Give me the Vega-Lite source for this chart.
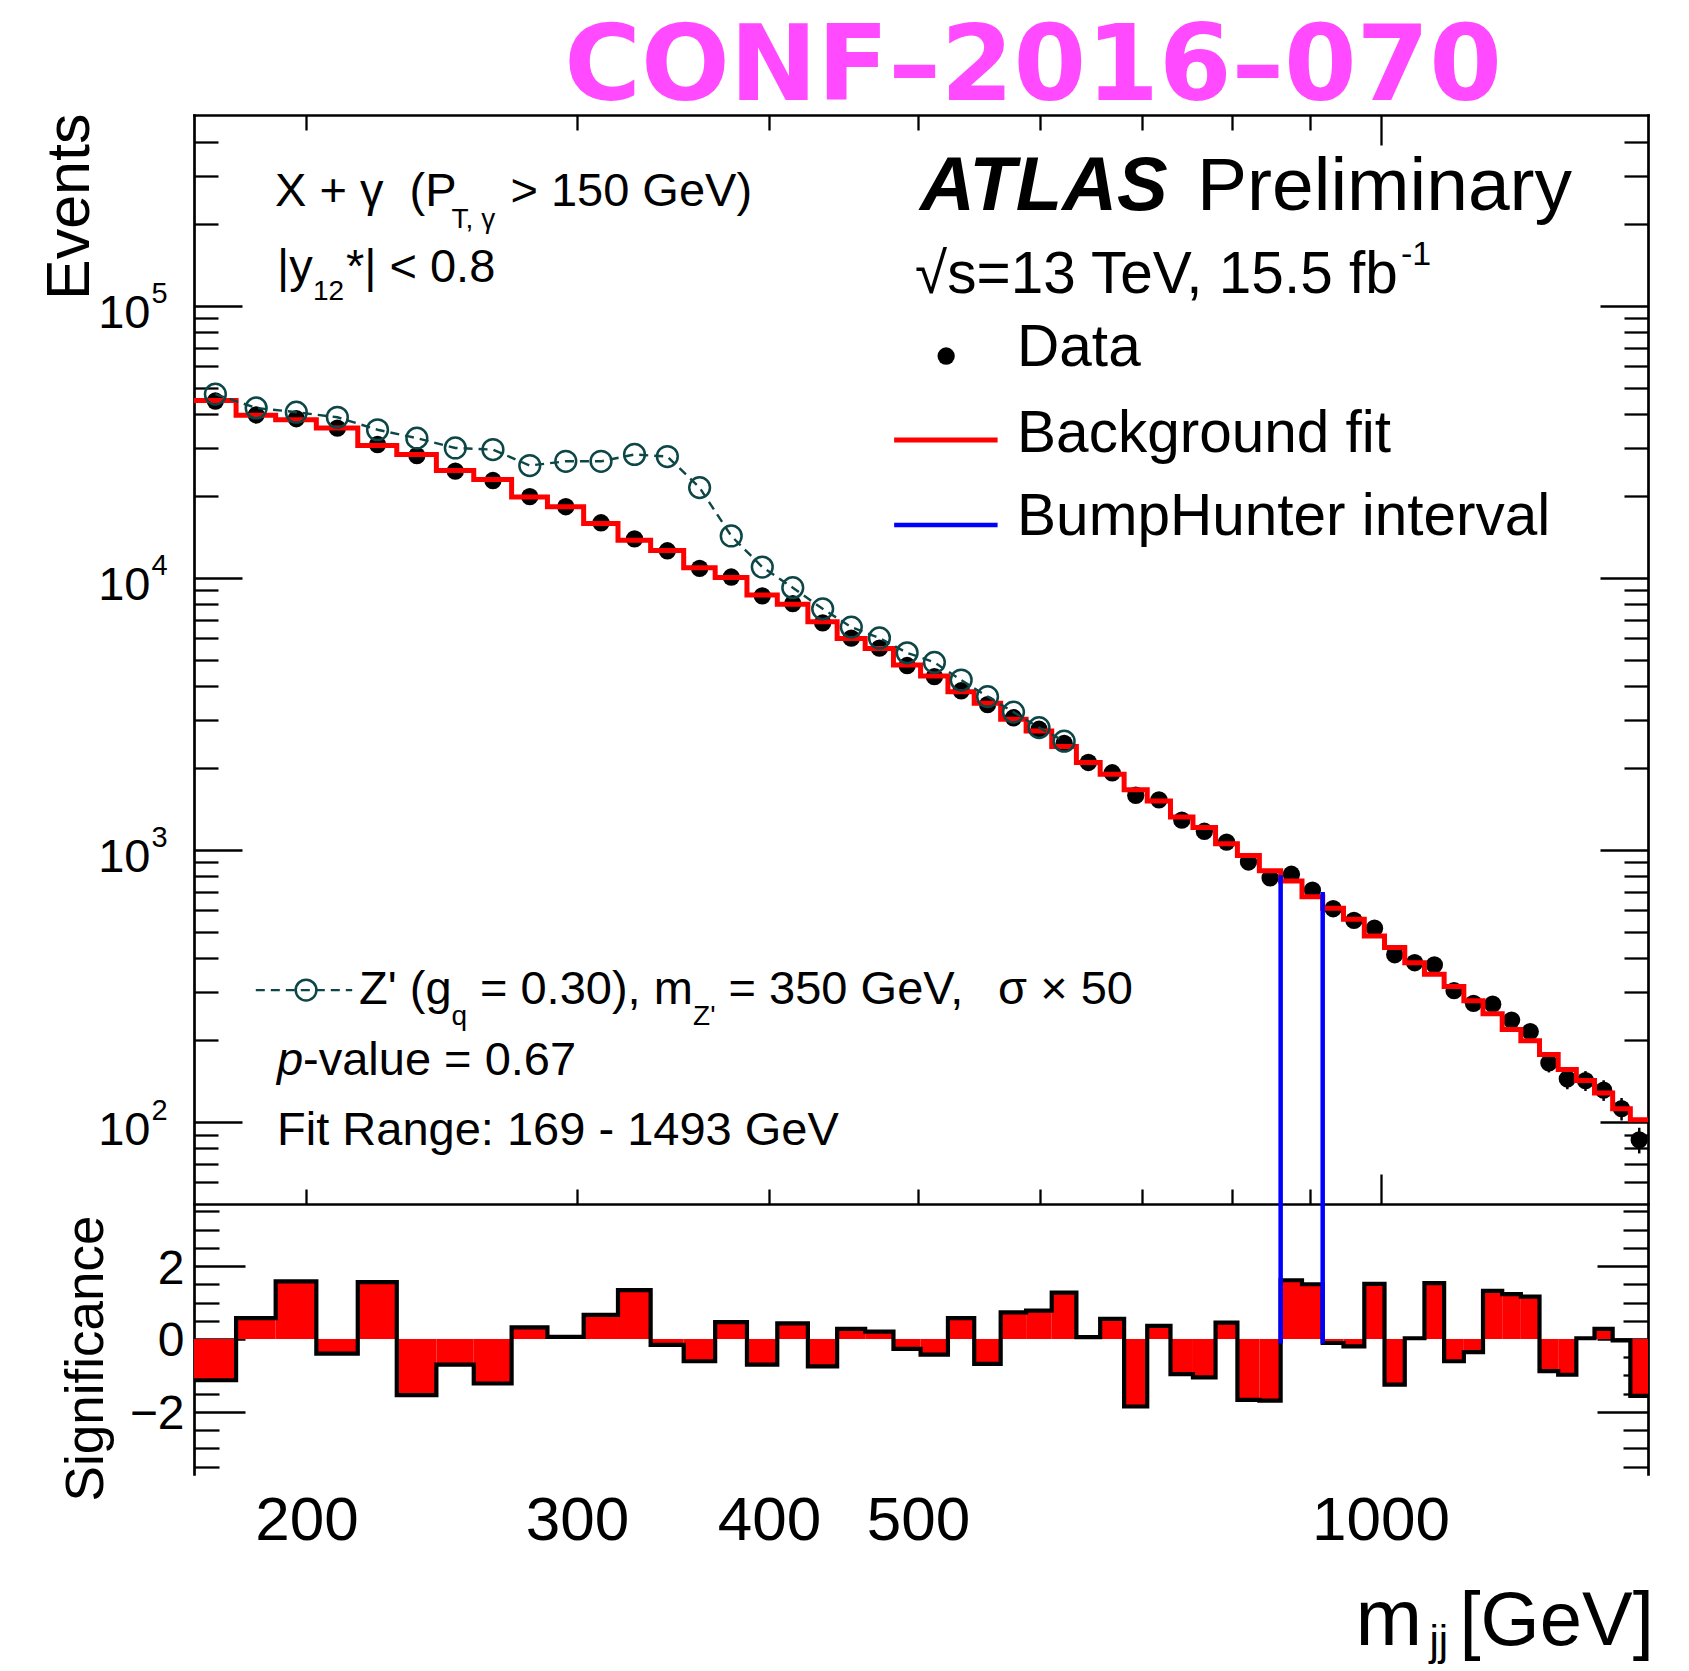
{
  "$schema": "https://vega.github.io/schema/vega-lite/v6.json",
  "width": 1454,
  "height": 1359,
  "autosize": {"type": "none"},
  "padding": {"left": 194, "top": 115, "right": 41, "bottom": 197},
  "background": "white",
  "datasets": {
    "bins": [
      {"i": 1, "lo": 169, "hi": 180, "m": 174.5, "data": 44631, "bg": 44870, "sig": -1.13, "zp": 47300},
      {"i": 2, "lo": 180, "hi": 191, "m": 185.5, "data": 39653, "bg": 39540, "sig": 0.57, "zp": 42100},
      {"i": 3, "lo": 191, "hi": 203, "m": 197, "data": 38418, "bg": 38110, "sig": 1.58, "zp": 40600},
      {"i": 4, "lo": 203, "hi": 216, "m": 209.5, "data": 35485, "bg": 35560, "sig": -0.40, "zp": 38900},
      {"i": 5, "lo": 216, "hi": 229, "m": 222.5, "data": 30893, "bg": 30620, "sig": 1.56, "zp": 35000},
      {"i": 6, "lo": 229, "hi": 243, "m": 236, "data": 28121, "bg": 28380, "sig": -1.54, "zp": 32600},
      {"i": 7, "lo": 243, "hi": 257, "m": 250, "data": 24660, "bg": 24770, "sig": -0.70, "zp": 30000},
      {"i": 8, "lo": 257, "hi": 272, "m": 264.5, "data": 22775, "bg": 22960, "sig": -1.22, "zp": 29600},
      {"i": 9, "lo": 272, "hi": 287, "m": 279.5, "data": 19865, "bg": 19820, "sig": 0.32, "zp": 25850},
      {"i": 10, "lo": 287, "hi": 303, "m": 295, "data": 18248, "bg": 18240, "sig": 0.06, "zp": 26800},
      {"i": 11, "lo": 303, "hi": 319, "m": 311, "data": 15933, "bg": 15850, "sig": 0.66, "zp": 26800},
      {"i": 12, "lo": 319, "hi": 335, "m": 327, "data": 13897, "bg": 13740, "sig": 1.34, "zp": 28400},
      {"i": 13, "lo": 335, "hi": 352, "m": 343.5, "data": 12572, "bg": 12590, "sig": -0.16, "zp": 27900},
      {"i": 14, "lo": 352, "hi": 369, "m": 360.5, "data": 10826, "bg": 10890, "sig": -0.61, "zp": 21450},
      {"i": 15, "lo": 369, "hi": 387, "m": 378, "data": 10066, "bg": 10020, "sig": 0.46, "zp": 14250},
      {"i": 16, "lo": 387, "hi": 405, "m": 396, "data": 8585, "bg": 8650, "sig": -0.70, "zp": 10950},
      {"i": 17, "lo": 405, "hi": 424, "m": 414.5, "data": 8038, "bg": 8000, "sig": 0.43, "zp": 9200},
      {"i": 18, "lo": 424, "hi": 443, "m": 433.5, "data": 6828, "bg": 6890, "sig": -0.75, "zp": 7690},
      {"i": 19, "lo": 443, "hi": 462, "m": 452.5, "data": 6002, "bg": 5980, "sig": 0.28, "zp": 6590},
      {"i": 20, "lo": 462, "hi": 482, "m": 472, "data": 5515, "bg": 5500, "sig": 0.20, "zp": 6010},
      {"i": 21, "lo": 482, "hi": 502, "m": 492, "data": 4761, "bg": 4780, "sig": -0.27, "zp": 5300},
      {"i": 22, "lo": 502, "hi": 523, "m": 512.5, "data": 4332, "bg": 4360, "sig": -0.43, "zp": 4890},
      {"i": 23, "lo": 523, "hi": 544, "m": 533.5, "data": 3845, "bg": 3810, "sig": 0.57, "zp": 4210},
      {"i": 24, "lo": 544, "hi": 566, "m": 555, "data": 3420, "bg": 3460, "sig": -0.68, "zp": 3660},
      {"i": 25, "lo": 566, "hi": 588, "m": 577, "data": 3060, "bg": 3020, "sig": 0.73, "zp": 3210},
      {"i": 26, "lo": 588, "hi": 611, "m": 599.5, "data": 2776, "bg": 2735, "sig": 0.78, "zp": 2815},
      {"i": 27, "lo": 611, "hi": 634, "m": 622.5, "data": 2462, "bg": 2400, "sig": 1.27, "zp": 2510},
      {"i": 28, "lo": 634, "hi": 657, "m": 645.5, "data": 2096, "bg": 2094, "sig": 0.05},
      {"i": 29, "lo": 657, "hi": 681, "m": 669, "data": 1921, "bg": 1897, "sig": 0.55},
      {"i": 30, "lo": 681, "hi": 705, "m": 693, "data": 1588, "bg": 1663, "sig": -1.85},
      {"i": 31, "lo": 705, "hi": 730, "m": 717.5, "data": 1528, "bg": 1514, "sig": 0.36},
      {"i": 32, "lo": 730, "hi": 755, "m": 742.5, "data": 1286, "bg": 1321, "sig": -0.96},
      {"i": 33, "lo": 755, "hi": 781, "m": 768, "data": 1171, "bg": 1208, "sig": -1.05},
      {"i": 34, "lo": 781, "hi": 807, "m": 794, "data": 1069, "bg": 1054, "sig": 0.45},
      {"i": 35, "lo": 807, "hi": 834, "m": 820.5, "data": 903, "bg": 955, "sig": -1.67},
      {"i": 36, "lo": 834, "hi": 861, "m": 847.5, "data": 789, "bg": 838, "sig": -1.69},
      {"i": 37, "lo": 861, "hi": 889, "m": 875, "data": 814, "bg": 769, "sig": 1.61},
      {"i": 38, "lo": 889, "hi": 917, "m": 903, "data": 712, "bg": 673, "sig": 1.50},
      {"i": 39, "lo": 917, "hi": 946, "m": 931.5, "data": 608, "bg": 611, "sig": -0.11},
      {"i": 40, "lo": 946, "hi": 976, "m": 961, "data": 551, "bg": 556, "sig": -0.20},
      {"i": 41, "lo": 976, "hi": 1006, "m": 991, "data": 516, "bg": 483, "sig": 1.51},
      {"i": 42, "lo": 1006, "hi": 1037, "m": 1021.5, "data": 412, "bg": 438, "sig": -1.25},
      {"i": 43, "lo": 1037, "hi": 1068, "m": 1052.5, "data": 385, "bg": 385, "sig": 0.02},
      {"i": 44, "lo": 1068, "hi": 1100, "m": 1084, "data": 378, "bg": 349, "sig": 1.53},
      {"i": 45, "lo": 1100, "hi": 1133, "m": 1116.5, "data": 304, "bg": 315, "sig": -0.61},
      {"i": 46, "lo": 1133, "hi": 1166, "m": 1149.5, "data": 273, "bg": 279, "sig": -0.36},
      {"i": 47, "lo": 1166, "hi": 1200, "m": 1183, "data": 271, "bg": 250, "sig": 1.32},
      {"i": 48, "lo": 1200, "hi": 1234, "m": 1217, "data": 237, "bg": 219, "sig": 1.23, "elo": 221.6, "ehi": 252.4},
      {"i": 49, "lo": 1234, "hi": 1269, "m": 1251.5, "data": 215, "bg": 199, "sig": 1.16, "elo": 200.3, "ehi": 229.7},
      {"i": 50, "lo": 1269, "hi": 1305, "m": 1287, "data": 165, "bg": 177, "sig": -0.88, "elo": 152.2, "ehi": 177.8},
      {"i": 51, "lo": 1305, "hi": 1341, "m": 1323, "data": 144, "bg": 156, "sig": -0.98, "elo": 132, "ehi": 156},
      {"i": 52, "lo": 1341, "hi": 1378, "m": 1359.5, "data": 142, "bg": 142, "sig": 0.02, "elo": 130.1, "ehi": 153.9},
      {"i": 53, "lo": 1378, "hi": 1416, "m": 1397, "data": 131, "bg": 128, "sig": 0.28, "elo": 119.6, "ehi": 142.4},
      {"i": 54, "lo": 1416, "hi": 1454, "m": 1435, "data": 112, "bg": 112, "sig": -0.04, "elo": 101.4, "ehi": 122.6},
      {"i": 55, "lo": 1454, "hi": 1493, "m": 1473.5, "data": 86, "bg": 102, "sig": -1.56, "elo": 76.7, "ehi": 95.3}
    ],
    "blueUpper": [
      {"m": 861, "m2": 861, "n": 50, "n2": 807},
      {"m": 917, "m2": 917, "n": 50, "n2": 701},
      {"m": 482.5, "m2": 563.4, "n": 15630, "n2": 15630}
    ],
    "blueLower": [
      {"m": 861, "s1": -0.12, "s2": 3.7},
      {"m": 917, "s1": -0.12, "s2": 3.7}
    ],
    "redKey": [{"m": 482.5, "m2": 563.4, "n": 32090}],
    "dataKey": [{"m": 521.6, "n": 65310}],
    "zpKeyLine": [{"m": 185.4, "m2": 214.2, "n": 305.5}],
    "zpKeyDot": [{"m": 199.9, "n": 305.5}],
    "headline": [{"m": 294.3, "n": 570000, "t": "CONF–2016–070"}],
    "text47": [
      {"m": 190.8, "n": 232500, "t": "X + γ\u00a0\u00a0(P"},
      {"m": 271.5, "n": 232500, "t": "> 150 GeV)"},
      {"m": 191.4, "n": 122200, "t": "|y"},
      {"m": 212.2, "n": 122200, "t": "*| < 0.8"},
      {"m": 216.4, "n": 271.4, "t": "Z' (g"},
      {"m": 259.4, "n": 271.4, "t": "= 0.30), m"},
      {"m": 376.5, "n": 271.4, "t": "= 350 GeV,"},
      {"m": 563.8, "n": 271.4, "t": "σ × 50"},
      {"m": 199.0, "n": 148.8, "t": "-value = 0.67"},
      {"m": 191.4, "n": 82.29, "t": "Fit Range: 169 - 1493 GeV"}
    ],
    "text47i": [{"m": 191.4, "n": 148.8, "t": "p"}],
    "textSub": [
      {"m": 248.6, "n": 192970, "t": "T, γ"},
      {"m": 202.0, "n": 104900, "t": "12"},
      {"m": 248.6, "n": 227.2, "t": "q"},
      {"m": 357.0, "n": 227.2, "t": "Z'"}
    ],
    "textAtlas": [{"m": 501.6, "n": 224700, "t": "ATLAS"}],
    "textPrelim": [{"m": 759.6, "n": 224700, "t": "Preliminary"}],
    "text58": [
      {"m": 497.9, "n": 111300, "t": "√s=13 TeV, 15.5 fb"},
      {"m": 580.1, "n": 60020, "t": "Data"},
      {"m": 580.1, "n": 28990, "t": "Background fit"},
      {"m": 580.1, "n": 14360, "t": "BumpHunter interval"}
    ],
    "textSup": [{"m": 1031.2, "n": 141100, "t": "-1"}]
  },
  "layer": [
    {
      "layer": [
        {
          "data": {"name": "bins"},
          "transform": [{"filter": "isValid(datum.elo)"}],
          "mark": {"type": "rule", "color": "black", "strokeWidth": 2.5},
          "encoding": {
            "x": {"field": "m", "type": "quantitative", "scale": {"type": "log", "domain": [169, 1493], "nice": false},
              "axis": {"orient": "bottom", "ticks": false, "labels": false, "domain": false, "title": "jj", "titleFontSize": 42, "titleAngle": 0, "titleAlign": "left", "titleBaseline": "alphabetic", "titleX": 1235, "titleY": 180}},
            "y": {"field": "elo", "type": "quantitative", "scale": {"type": "log", "domain": [5.09, 502000], "nice": false},
              "axis": {"orient": "left", "values": [100, 1000, 10000, 100000], "ticks": false, "domain": false, "labelExpr": "datum.value == 100 ? '2' : datum.value == 1000 ? '3' : datum.value == 10000 ? '4' : '5'", "labelFontSize": 29, "labelAlign": "left", "labelBaseline": "middle", "labelPadding": 43, "labelOffset": -12, "title": null}},
            "y2": {"field": "ehi"}
          }
        },
        {
          "data": {"name": "bins"},
          "mark": {"type": "point", "filled": true, "color": "black", "size": 300, "opacity": 1},
          "encoding": {
            "x": {"field": "m", "type": "quantitative", "scale": {"type": "log", "domain": [169, 1493], "nice": false},
              "axis": {"orient": "bottom", "ticks": false, "labels": false, "domain": false, "title": "[GeV]", "titleFontSize": 76, "titleAngle": 0, "titleAlign": "left", "titleBaseline": "alphabetic", "titleX": 1265, "titleY": 170}},
            "y": {"field": "data", "type": "quantitative", "scale": {"type": "log", "domain": [5.09, 502000], "nice": false}, "axis": null}
          }
        },
        {
          "data": {"name": "bins"},
          "transform": [{"fold": ["lo", "hi"], "as": ["edge", "e"]}],
          "mark": {"type": "line", "color": "#ff0000", "strokeWidth": 5, "strokeJoin": "miter"},
          "encoding": {
            "x": {"field": "e", "type": "quantitative", "scale": {"type": "log", "domain": [169, 1493], "nice": false},
              "axis": {"orient": "top", "values": [200, 300, 400, 500, 600, 700, 800, 900, 1000], "labels": false, "domain": true, "tickSize": {"condition": {"test": "datum.value == 1000", "value": -30}, "value": -15}, "title": null}},
            "y": {"field": "bg", "type": "quantitative", "scale": {"type": "log", "domain": [5.09, 502000], "nice": false},
              "axis": {"orient": "left", "values": [60, 70, 80, 90, 100, 200, 300, 400, 500, 600, 700, 800, 900, 1000, 2000, 3000, 4000, 5000, 6000, 7000, 8000, 9000, 10000, 20000, 30000, 40000, 50000, 60000, 70000, 80000, 90000, 100000, 200000, 300000, 400000], "labels": false, "domain": true, "tickSize": {"condition": {"test": "indexof([100,1000,10000,100000], datum.value) >= 0", "value": -48}, "value": -24}, "title": null}},
            "order": [{"field": "e", "type": "quantitative"}, {"field": "i", "type": "quantitative"}]
          }
        },
        {
          "data": {"name": "bins"},
          "transform": [{"filter": "isValid(datum.zp)"}],
          "mark": {"type": "line", "color": "#0d4646", "strokeWidth": 2.4, "strokeDash": [9, 6]},
          "encoding": {
            "x": {"field": "m", "type": "quantitative", "scale": {"type": "log", "domain": [169, 1493], "nice": false},
              "axis": {"orient": "bottom", "offset": -270, "values": [200, 300, 400, 500, 600, 700, 800, 900, 1000], "labels": false, "domain": true, "tickSize": {"condition": {"test": "datum.value == 1000", "value": -30}, "value": -15}, "title": null}},
            "y": {"field": "zp", "type": "quantitative", "scale": {"type": "log", "domain": [5.09, 502000], "nice": false},
              "axis": {"orient": "right", "values": [60, 70, 80, 90, 100, 200, 300, 400, 500, 600, 700, 800, 900, 1000, 2000, 3000, 4000, 5000, 6000, 7000, 8000, 9000, 10000, 20000, 30000, 40000, 50000, 60000, 70000, 80000, 90000, 100000, 200000, 300000, 400000], "labels": false, "domain": true, "tickSize": {"condition": {"test": "indexof([100,1000,10000,100000], datum.value) >= 0", "value": -48}, "value": -24}, "title": null}}
          }
        },
        {
          "data": {"name": "bins"},
          "transform": [{"filter": "isValid(datum.zp)"}],
          "mark": {"type": "point", "filled": false, "color": "#0d4646", "size": 430, "strokeWidth": 2.5, "opacity": 1},
          "encoding": {
            "x": {"field": "m", "type": "quantitative", "scale": {"type": "log", "domain": [169, 1493], "nice": false},
              "axis": {"orient": "bottom", "values": [200, 300, 400, 500, 1000], "ticks": false, "domain": false, "format": "d", "labelFontSize": 62, "labelAngle": 0, "labelAlign": "center", "labelBaseline": "top", "labelPadding": 16, "title": "m", "titleFontSize": 80, "titleAngle": 0, "titleAlign": "left", "titleBaseline": "alphabetic", "titleX": 1161, "titleY": 170}},
            "y": {"field": "zp", "type": "quantitative", "scale": {"type": "log", "domain": [5.09, 502000], "nice": false},
              "axis": {"orient": "left", "values": [100, 1000, 10000, 100000], "ticks": false, "domain": false, "labelExpr": "'10'", "labelFontSize": 47, "labelAlign": "right", "labelBaseline": "middle", "labelPadding": 44, "labelOffset": 8, "title": "Events", "titleFontSize": 61, "titleAngle": -90, "titleAlign": "right", "titleBaseline": "alphabetic", "titleX": -106, "titleY": -2}}
          }
        },
        {
          "data": {"name": "blueUpper"},
          "mark": {"type": "rule", "color": "#0000ff", "strokeWidth": 4.5},
          "encoding": {
            "x": {"field": "m", "type": "quantitative", "scale": {"type": "log", "domain": [169, 1493], "nice": false}, "axis": null},
            "x2": {"field": "m2"},
            "y": {"field": "n", "type": "quantitative", "scale": {"type": "log", "domain": [5.09, 502000], "nice": false}, "axis": null},
            "y2": {"field": "n2"}
          }
        },
        {
          "data": {"name": "redKey"},
          "mark": {"type": "rule", "color": "#ff0000", "strokeWidth": 5},
          "encoding": {
            "x": {"field": "m", "type": "quantitative", "scale": {"type": "log", "domain": [169, 1493], "nice": false}, "axis": null},
            "x2": {"field": "m2"},
            "y": {"field": "n", "type": "quantitative", "scale": {"type": "log", "domain": [5.09, 502000], "nice": false}, "axis": null}
          }
        },
        {
          "data": {"name": "dataKey"},
          "mark": {"type": "point", "filled": true, "color": "black", "size": 300, "opacity": 1},
          "encoding": {
            "x": {"field": "m", "type": "quantitative", "scale": {"type": "log", "domain": [169, 1493], "nice": false}, "axis": null},
            "y": {"field": "n", "type": "quantitative", "scale": {"type": "log", "domain": [5.09, 502000], "nice": false}, "axis": null}
          }
        },
        {
          "data": {"name": "zpKeyLine"},
          "mark": {"type": "rule", "color": "#0d4646", "strokeWidth": 2.4, "strokeDash": [9, 6]},
          "encoding": {
            "x": {"field": "m", "type": "quantitative", "scale": {"type": "log", "domain": [169, 1493], "nice": false}, "axis": null},
            "x2": {"field": "m2"},
            "y": {"field": "n", "type": "quantitative", "scale": {"type": "log", "domain": [5.09, 502000], "nice": false}, "axis": null}
          }
        },
        {
          "data": {"name": "zpKeyDot"},
          "mark": {"type": "point", "filled": false, "color": "#0d4646", "size": 430, "strokeWidth": 2.5, "opacity": 1},
          "encoding": {
            "x": {"field": "m", "type": "quantitative", "scale": {"type": "log", "domain": [169, 1493], "nice": false}, "axis": null},
            "y": {"field": "n", "type": "quantitative", "scale": {"type": "log", "domain": [5.09, 502000], "nice": false}, "axis": null}
          }
        },
        {
          "data": {"name": "headline"},
          "mark": {"type": "text", "font": "DejaVu Sans", "fontSize": 104.5, "fontWeight": "bold", "align": "left", "baseline": "alphabetic", "color": "#ff4aff"},
          "encoding": {
            "x": {"field": "m", "type": "quantitative", "scale": {"type": "log", "domain": [169, 1493], "nice": false}, "axis": null},
            "y": {"field": "n", "type": "quantitative", "scale": {"type": "log", "domain": [5.09, 502000], "nice": false}, "axis": null},
            "text": {"field": "t"}
          }
        },
        {
          "data": {"name": "text47"},
          "mark": {"type": "text", "fontSize": 47, "align": "left", "baseline": "alphabetic", "color": "black"},
          "encoding": {
            "x": {"field": "m", "type": "quantitative", "scale": {"type": "log", "domain": [169, 1493], "nice": false}, "axis": null},
            "y": {"field": "n", "type": "quantitative", "scale": {"type": "log", "domain": [5.09, 502000], "nice": false}, "axis": null},
            "text": {"field": "t"}
          }
        },
        {
          "data": {"name": "text47i"},
          "mark": {"type": "text", "fontSize": 47, "fontStyle": "italic", "align": "left", "baseline": "alphabetic", "color": "black"},
          "encoding": {
            "x": {"field": "m", "type": "quantitative", "scale": {"type": "log", "domain": [169, 1493], "nice": false}, "axis": null},
            "y": {"field": "n", "type": "quantitative", "scale": {"type": "log", "domain": [5.09, 502000], "nice": false}, "axis": null},
            "text": {"field": "t"}
          }
        },
        {
          "data": {"name": "textSub"},
          "mark": {"type": "text", "fontSize": 28, "align": "left", "baseline": "alphabetic", "color": "black"},
          "encoding": {
            "x": {"field": "m", "type": "quantitative", "scale": {"type": "log", "domain": [169, 1493], "nice": false}, "axis": null},
            "y": {"field": "n", "type": "quantitative", "scale": {"type": "log", "domain": [5.09, 502000], "nice": false}, "axis": null},
            "text": {"field": "t"}
          }
        },
        {
          "data": {"name": "textAtlas"},
          "mark": {"type": "text", "fontSize": 76, "fontWeight": "bold", "fontStyle": "italic", "align": "left", "baseline": "alphabetic", "color": "black"},
          "encoding": {
            "x": {"field": "m", "type": "quantitative", "scale": {"type": "log", "domain": [169, 1493], "nice": false}, "axis": null},
            "y": {"field": "n", "type": "quantitative", "scale": {"type": "log", "domain": [5.09, 502000], "nice": false}, "axis": null},
            "text": {"field": "t"}
          }
        },
        {
          "data": {"name": "textPrelim"},
          "mark": {"type": "text", "fontSize": 75, "align": "left", "baseline": "alphabetic", "color": "black"},
          "encoding": {
            "x": {"field": "m", "type": "quantitative", "scale": {"type": "log", "domain": [169, 1493], "nice": false}, "axis": null},
            "y": {"field": "n", "type": "quantitative", "scale": {"type": "log", "domain": [5.09, 502000], "nice": false}, "axis": null},
            "text": {"field": "t"}
          }
        },
        {
          "data": {"name": "text58"},
          "mark": {"type": "text", "fontSize": 58.5, "align": "left", "baseline": "alphabetic", "color": "black"},
          "encoding": {
            "x": {"field": "m", "type": "quantitative", "scale": {"type": "log", "domain": [169, 1493], "nice": false}, "axis": null},
            "y": {"field": "n", "type": "quantitative", "scale": {"type": "log", "domain": [5.09, 502000], "nice": false}, "axis": null},
            "text": {"field": "t"}
          }
        },
        {
          "data": {"name": "textSup"},
          "mark": {"type": "text", "fontSize": 34, "align": "left", "baseline": "alphabetic", "color": "black"},
          "encoding": {
            "x": {"field": "m", "type": "quantitative", "scale": {"type": "log", "domain": [169, 1493], "nice": false}, "axis": null},
            "y": {"field": "n", "type": "quantitative", "scale": {"type": "log", "domain": [5.09, 502000], "nice": false}, "axis": null},
            "text": {"field": "t"}
          }
        }
      ],
      "resolve": {"axis": {"x": "independent", "y": "independent"}}
    },
    {
      "layer": [
        {
          "data": {"name": "bins"},
          "mark": {"type": "rect", "color": "#ff0000"},
          "encoding": {
            "x": {"field": "lo", "type": "quantitative", "scale": {"type": "log", "domain": [169, 1493], "nice": false},
              "axis": {"orient": "bottom", "offset": -270, "values": [200, 300, 400, 500, 600, 700, 800, 900, 1000], "labels": false, "domain": false, "tickSize": {"condition": {"test": "datum.value == 1000", "value": 12.5}, "value": 6.5}, "title": null}},
            "x2": {"field": "hi"},
            "y": {"field": "sig", "type": "quantitative", "scale": {"type": "linear", "domain": [-3.7, 33.546], "nice": false, "zero": false},
              "axis": {"orient": "left", "values": [-3.5, -3, -2.5, -2, -1.5, -1, -0.5, 0, 0.5, 1, 1.5, 2, 2.5, 3, 3.5], "labels": false, "domain": false, "tickSize": {"condition": {"test": "datum.value % 2 == 0", "value": -51}, "value": -25}, "title": null}},
            "y2": {"datum": 0}
          }
        },
        {
          "data": {"name": "bins"},
          "transform": [{"fold": ["lo", "hi"], "as": ["edge", "e"]}],
          "mark": {"type": "line", "color": "black", "strokeWidth": 4.2, "strokeJoin": "miter"},
          "encoding": {
            "x": {"field": "e", "type": "quantitative", "scale": {"type": "log", "domain": [169, 1493], "nice": false},
              "axis": {"orient": "bottom", "values": [200, 300, 400, 500, 600, 700, 800, 900, 1000], "labels": false, "domain": true, "tickSize": {"condition": {"test": "datum.value == 1000", "value": -12.5}, "value": -6.5}, "title": null}},
            "y": {"field": "sig", "type": "quantitative", "scale": {"type": "linear", "domain": [-3.7, 33.546], "nice": false, "zero": false},
              "axis": {"orient": "right", "values": [-3.5, -3, -2.5, -2, -1.5, -1, -0.5, 0, 0.5, 1, 1.5, 2, 2.5, 3, 3.5], "labels": false, "domain": false, "tickSize": {"condition": {"test": "datum.value % 2 == 0", "value": -51}, "value": -25}, "title": null}},
            "order": [{"field": "e", "type": "quantitative"}, {"field": "i", "type": "quantitative"}]
          }
        },
        {
          "data": {"name": "blueLower"},
          "mark": {"type": "rule", "color": "#0000ff", "strokeWidth": 4.5},
          "encoding": {
            "x": {"field": "m", "type": "quantitative", "scale": {"type": "log", "domain": [169, 1493], "nice": false}, "axis": null},
            "y": {"field": "s1", "type": "quantitative", "scale": {"type": "linear", "domain": [-3.7, 33.546], "nice": false, "zero": false},
              "axis": {"orient": "left", "values": [-2, 0, 2], "ticks": false, "domain": false, "labelExpr": "datum.value < 0 ? '−' + abs(datum.value) : '' + datum.value", "labelFontSize": 48, "labelAlign": "right", "labelBaseline": "middle", "labelPadding": 10, "labelOffset": 3, "title": "Significance", "titleFontSize": 53, "titleAngle": -90, "titleAlign": "center", "titleBaseline": "alphabetic", "titleX": -92, "titleY": 1243}},
            "y2": {"field": "s2"}
          }
        }
      ]
    }
  ],
  "resolve": {"scale": {"y": "independent"}, "axis": {"x": "independent", "y": "independent"}},
  "config": {
    "view": {"stroke": null, "fill": "white"},
    "font": "Liberation Sans",
    "axis": {
      "grid": false,
      "domainColor": "black",
      "domainWidth": 2.7,
      "domainCap": "square",
      "tickColor": "black",
      "tickWidth": 2.3,
      "labelColor": "black",
      "titleColor": "black",
      "labelFont": "Liberation Sans",
      "titleFont": "Liberation Sans",
      "titleFontWeight": "normal",
      "labelOverlap": false,
      "labelFlush": false,
      "labelBound": false,
      "zindex": 1
    },
    "text": {"font": "Liberation Sans"}
  }
}
